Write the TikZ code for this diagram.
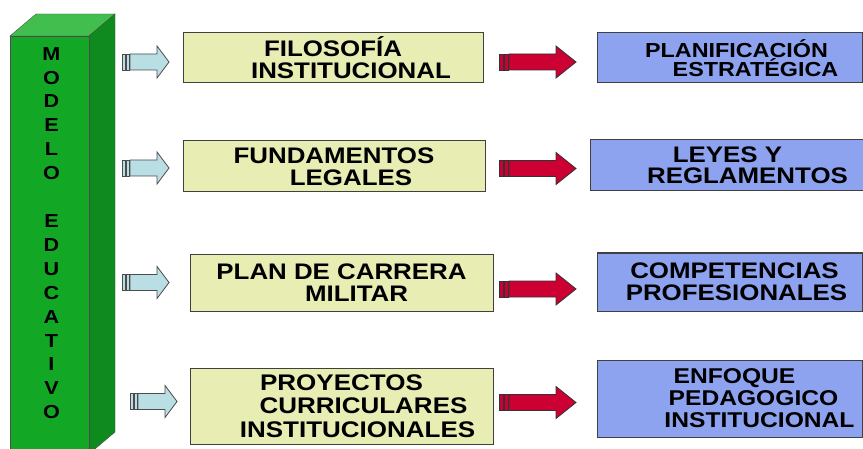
\documentclass[tikz,border=0pt]{standalone}
\usepackage{fontspec}
\setmainfont{Liberation Sans}[FakeStretch=1.15]
\usetikzlibrary{positioning}
\definecolor{boxyellow}{RGB}{232,237,180}
\definecolor{boxblue}{RGB}{141,163,240}
\definecolor{greenfront}{RGB}{18,168,38}
\definecolor{greentop}{RGB}{66,190,78}
\definecolor{greenside}{RGB}{14,138,30}
\definecolor{arrowlight}{RGB}{185,222,228}
\definecolor{arrowred}{RGB}{204,0,51}

\tikzset{
  ybox/.style={draw=black!75, line width=1pt, fill=boxyellow, align=center, inner sep=0pt,
    font=\bfseries\fontsize{22.5}{22}\selectfont},
  bbox/.style={ybox, fill=boxblue},
  letter/.style={anchor=base, inner sep=0pt, font=\bfseries\fontsize{18.8}{20}\selectfont},
  lightarrow/.style={fill=arrowlight, draw=black!70, line width=0.8pt},
  redarrow/.style={fill=arrowred, draw=black!80, line width=0.8pt},
  pics/blockarrow/.style n args={3}{code={
    \draw[pic actions] (0,-8) rectangle (#2,8);
    \draw[pic actions] ({#2+1},-8) rectangle ({2*#2+1},8);
    \draw[pic actions] ({2*#2+2},-8) -- ({#1-#3},-8) -- ({#1-#3},-16) -- (#1,0)
      -- ({#1-#3},16) -- ({#1-#3},8) -- ({2*#2+2},8) -- cycle;
  }}
}

\begin{document}
\begin{tikzpicture}[x=1pt,y=1pt]
  \useasboundingbox (0,0) rectangle (863,448);
  \clip (0,0) rectangle (863,448);
  % green block
  \draw[black!70, fill=greentop] (10,412) -- (36,434) -- (115,434) -- (89,412) -- cycle;
  \draw[black!70, fill=greenside] (89,412) -- (115,434) -- (115,16) -- (89,-6) -- cycle;
  \draw[black!70, fill=greenfront] (10,412) rectangle (89,-6);
  \foreach \ch [count=\i] in {M,O,D,E,L,O,{},E,D,U,C,A,T,I,V,O}
    \node[letter] (let\i) at (51.5,{387.8-(\i-1)*23.9}) {\ch};

  % middle column
  \node[ybox, minimum width=300pt, minimum height=50pt] (filo) at (333,390)
    {FILOSOFÍA\\\hspace*{36pt}INSTITUCIONAL};
  \node[ybox, minimum width=302pt, minimum height=51pt] (fund) at (334,281.5)
    {FUNDAMENTOS\\\hspace*{34pt}LEGALES};
  \node[ybox, minimum width=303pt, minimum height=57pt] (plan) at (341.5,165.5)
    {PLAN DE CARRERA\\\hspace*{30pt}MILITAR};
  \node[ybox, minimum width=303pt, minimum height=76pt, font=\bfseries\fontsize{22.6}{23.5}\selectfont] (proy) at (341.5,42)
    {PROYECTOS\\\hspace*{44pt}CURRICULARES\\\hspace*{32pt}INSTITUCIONALES};

  % right column
  \node[bbox, minimum width=265pt, minimum height=50pt, font=\bfseries\fontsize{20.3}{19}\selectfont] (estr) at (729.5,390)
    {\hspace*{14pt}PLANIFICACIÓN\\\hspace*{52pt}ESTRATÉGICA};
  \node[bbox, minimum width=273pt, minimum height=51pt, font=\bfseries\fontsize{22.5}{20.5}\selectfont] (leye) at (726.5,282.5)
    {\hspace*{2pt}LEYES Y\\\hspace*{42pt}REGLAMENTOS};
  \node[bbox, minimum width=265pt, minimum height=58pt] (comp) at (729.5,166)
    {\hspace*{10pt}COMPETENCIAS\\\hspace*{14pt}PROFESIONALES};
  \node[bbox, minimum width=265pt, minimum height=77pt, font=\bfseries\fontsize{21.4}{22}\selectfont] (enfo) at (729.5,49.5)
    {\hspace*{10pt}ENFOQUE\\\hspace*{48pt}PEDAGOGICO\\\hspace*{60pt}INSTITUCIONAL};

  % arrows
  \pic[lightarrow] (la1) at (122,386) {blockarrow={47}{3}{12}};
  \pic[lightarrow] (la2) at (122,280) {blockarrow={47}{3}{12}};
  \pic[lightarrow] (la3) at (122,165.5) {blockarrow={47}{3}{12}};
  \pic[lightarrow] (la4) at (130,46.5) {blockarrow={47}{3}{12}};
  \pic[redarrow] (ra1) at (499,386) {blockarrow={77}{4}{20}};
  \pic[redarrow] (ra2) at (499,279.5) {blockarrow={77}{4}{20}};
  \pic[redarrow] (ra3) at (499,159) {blockarrow={77}{4}{20}};
  \pic[redarrow] (ra4) at (499,45.5) {blockarrow={77}{4}{20}};
\end{tikzpicture}
\end{document}
